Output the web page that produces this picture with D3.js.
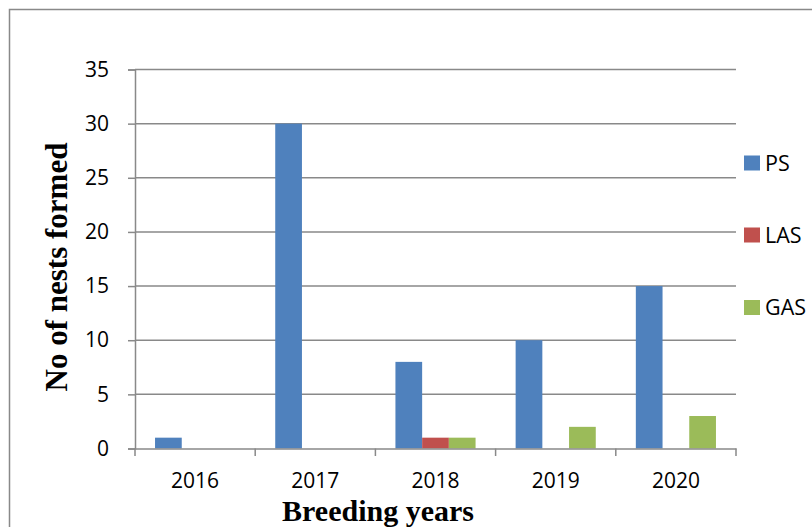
<!DOCTYPE html>
<html><head><meta charset="utf-8">
<script src="https://cdn.jsdelivr.net/npm/d3@7"></script>
<style>html,body{margin:0;padding:0;background:#fff;}svg{display:block;}</style>
</head><body>
<svg id="chart" width="812" height="527"></svg>
<script>
const years = ["2016","2017","2018","2019","2020"];
const seriesNames = ["PS","LAS","GAS"];
const psValues = [1,30,8,10,15];
const lasValues = [0,0,1,0,0];
const gasValues = [0,0,1,2,3];
const yTicks = [0,5,10,15,20,25,30,35];
const colors = ["#4F81BD","#C0504D","#9BBB59"];
const seriesValues = [psValues, lasValues, gasValues];

const svg = d3.select("#chart");
const tickFont = "'Open Sans', sans-serif";
const gray = "#898989";

svg.append("rect").attr("x",9.5).attr("y",9.5).attr("width",830).attr("height",560)
  .attr("fill","#fff").attr("stroke",gray).attr("stroke-width",1.5);

const x = d3.scaleBand().domain(years).range([135,736]).paddingInner(0).paddingOuter(0);
const xs = d3.scaleBand().domain(seriesNames).range([0,x.bandwidth()]).paddingInner(0).paddingOuter(0.75);
const y = d3.scaleLinear().domain([0,35]).range([448.5,69.5]);

// gridlines
svg.append("g").selectAll("line").data(yTicks.filter(t=>t>0)).join("line")
  .attr("x1",135).attr("x2",736).attr("y1",d=>y(d)).attr("y2",d=>y(d))
  .attr("stroke",gray).attr("stroke-width",1.5);

// y axis
const yAxis = svg.append("g").attr("transform","translate(135,0)")
  .call(d3.axisLeft(y).tickValues(yTicks).tickSize(7).tickPadding(19));
yAxis.select(".domain").attr("stroke",gray).attr("stroke-width",1.5);
yAxis.selectAll(".tick line").attr("stroke",gray).attr("stroke-width",1.5);
yAxis.selectAll("text").attr("font-family",tickFont).attr("font-size",21).attr("fill","#000");

// bars
seriesNames.forEach((s,i)=>{
  svg.append("g").selectAll("rect").data(years.map((yr,j)=>({yr, v: seriesValues[i][j]})).filter(d=>d.v>0)).join("rect")
    .attr("x",d=>x(d.yr)+xs(s)).attr("width",xs.bandwidth())
    .attr("y",d=>y(d.v)).attr("height",d=>y(0)-y(d.v))
    .attr("fill",colors[i]);
});

// x axis
const xAxis = svg.append("g").attr("transform","translate(0,448.5)")
  .call(d3.axisBottom(x).tickSize(0).tickPadding(0));
xAxis.select(".domain").attr("stroke",gray).attr("stroke-width",1.5);
xAxis.selectAll("text").attr("font-family",tickFont).attr("font-size",21).attr("fill","#000")
  .attr("dy",0).attr("y",39);
const bounds = years.map(d=>x(d)).concat([x.range()[1]]);
svg.append("g").selectAll("line").data(bounds).join("line")
  .attr("x1",d=>d).attr("x2",d=>d).attr("y1",448.5).attr("y2",456)
  .attr("stroke",gray).attr("stroke-width",1.5);

// axis titles
svg.append("text").attr("x",378).attr("y",520.5).attr("text-anchor","middle")
  .attr("font-family","'Liberation Serif', 'Times New Roman', serif").attr("font-weight","bold")
  .attr("font-size",30).text("Breeding years");
svg.append("text").attr("transform","translate(67,267) rotate(-90)").attr("text-anchor","middle")
  .attr("font-family","'Liberation Serif', 'Times New Roman', serif").attr("font-weight","bold")
  .attr("font-size",31).text("No of nests formed");

// legend
const legendY = [163,235,307.5];
const lg = svg.append("g").selectAll("g").data(seriesNames).join("g")
  .attr("transform",(d,i)=>`translate(744,${legendY[i]})`);
lg.append("rect").attr("x",0).attr("y",-7.5).attr("width",16).attr("height",15).attr("fill",(d,i)=>colors[i]);
lg.append("text").attr("x",21).attr("y",0).attr("dy","0.36em")
  .attr("font-family",tickFont).attr("font-size",21.5).attr("fill","#000").text(d=>d);
</script>
</body></html>
